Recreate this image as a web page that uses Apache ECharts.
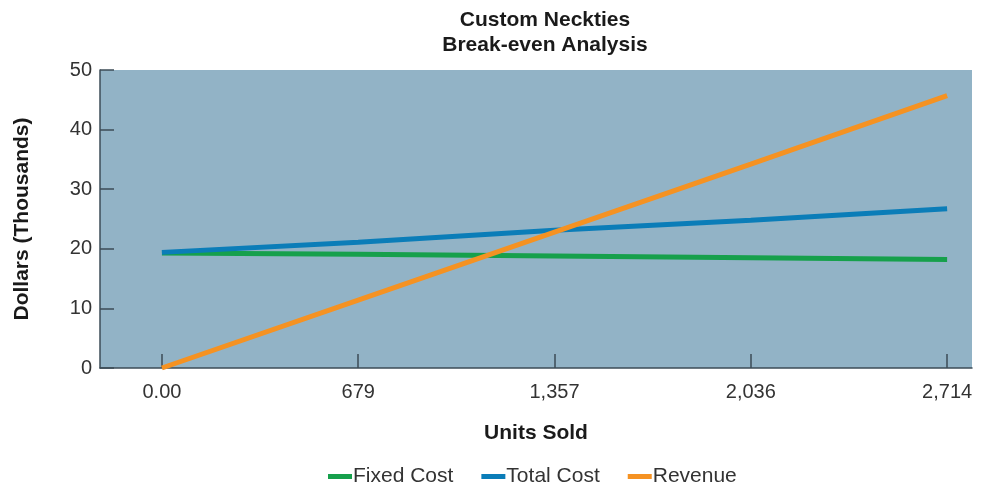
<!DOCTYPE html>
<html>
<head>
<meta charset="utf-8">
<script src="https://cdn.jsdelivr.net/npm/echarts@6/dist/echarts.min.js"></script>
<style>
  html, body { margin: 0; padding: 0; background: #fff; }
  #chart { width: 985px; height: 485px; }
</style>
</head>
<body>
<div id="chart"></div>
<script>
// units sold at each break-even step
const units = [0, 678.5, 1357, 2035.5, 2714];
const unitLabels = ['0.00', '679', '1,357', '2,036', '2,714'];

// dollars, thousands
const fixedCost = [19.3, 19.1, 18.8, 18.5, 18.2];
const totalCost = [19.4, 21.1, 23.1, 24.8, 26.7];
const revenue = [0, 11.4, 22.8, 34.2, 45.7];

const pairs = (ys) => ys.map((y, i) => [units[i], y]);

const chart = echarts.init(document.getElementById('chart'));
const font = 'Liberation Sans, Arial, sans-serif';
const axisColor = '#3d4c57';

chart.setOption({
  textStyle: { fontFamily: font },
  title: {
    text: 'Custom Neckties\nBreak-even Analysis',
    left: 540,
    top: 3,
    textAlign: 'center',
    textStyle: { fontSize: 21, fontWeight: 'bold', color: '#1a1a1a', lineHeight: 25, fontFamily: font }
  },
  grid: {
    left: 100, right: 13, top: 70, bottom: 117,
    show: true, backgroundColor: '#92b3c6', borderWidth: 0
  },
  legend: {
    bottom: -7,
    left: 323,
    icon: 'rect',
    itemWidth: 24,
    itemHeight: 5,
    itemGap: 28,
    textStyle: { fontSize: 21, color: '#333', fontFamily: font, padding: [0, 0, 0, -4] },
    data: ['Fixed Cost', 'Total Cost', 'Revenue']
  },
  xAxis: {
    type: 'value',
    min: -214,
    max: 2800,
    name: 'Units Sold',
    nameLocation: 'middle',
    nameGap: 55,
    nameTextStyle: { fontSize: 21, fontWeight: 'bold', color: '#1a1a1a' },
    axisLine: { onZero: false, lineStyle: { color: axisColor, width: 1.5 } },
    axisTick: { show: true, inside: true, length: 14, customValues: units, lineStyle: { color: axisColor, width: 1.5 } },
    axisLabel: {
      customValues: units,
      fontSize: 20, color: '#333', margin: 14,
      formatter: (v) => unitLabels[units.indexOf(v)]
    },
    splitLine: { show: false }
  },
  yAxis: {
    type: 'value',
    min: 0,
    max: 50,
    interval: 10,
    name: 'Dollars (Thousands)',
    nameLocation: 'middle',
    nameGap: 67,
    nameTextStyle: { fontSize: 21, fontWeight: 'bold', color: '#1a1a1a' },
    axisLine: { show: true, onZero: false, lineStyle: { color: axisColor, width: 1.5 } },
    axisTick: { show: true, inside: true, length: 14, lineStyle: { color: axisColor, width: 1.5 } },
    axisLabel: { fontSize: 20, color: '#333', margin: 8 },
    splitLine: { show: false }
  },
  series: [
    { name: 'Fixed Cost', type: 'line', data: pairs(fixedCost), symbol: 'none',
      lineStyle: { width: 5, color: '#16a04c' }, itemStyle: { color: '#16a04c' } },
    { name: 'Total Cost', type: 'line', data: pairs(totalCost), symbol: 'none',
      lineStyle: { width: 5, color: '#0b7db8' }, itemStyle: { color: '#0b7db8' } },
    { name: 'Revenue', type: 'line', data: pairs(revenue), symbol: 'none',
      lineStyle: { width: 5, color: '#f59222' }, itemStyle: { color: '#f59222' } }
  ]
});
</script>
</body>
</html>
